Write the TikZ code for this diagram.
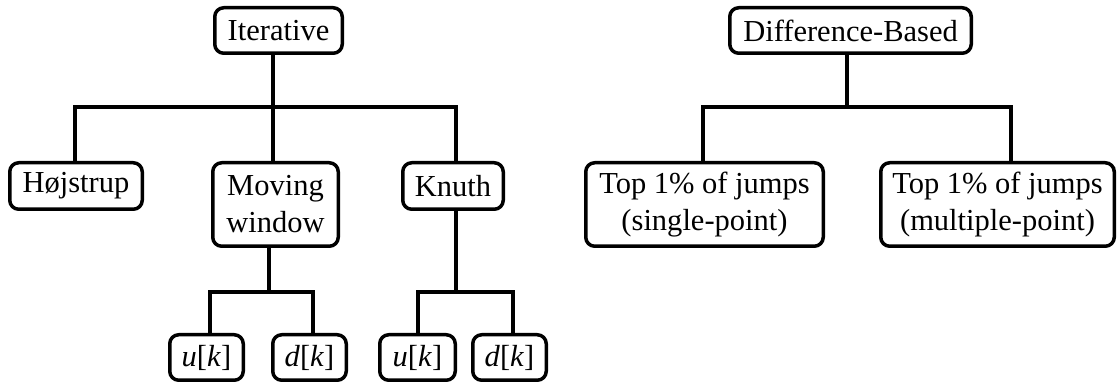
\documentclass[tikz,border=0pt]{standalone}
\usepackage{fontspec}
\setmainfont{Liberation Serif}
\begin{document}
\begin{tikzpicture}[x=0.5pt,y=-0.5pt,
  box/.style={draw, line width=1.75pt, rounded corners=4.5pt, inner sep=0pt,
    align=center, font=\fontsize{15.25}{18.5}\selectfont},
  conn/.style={line width=1.75pt}]
\useasboundingbox (0,0) rectangle (1117,383);
% Iterative tree
\node[box, minimum width=63.75pt, minimum height=22.75pt] (it) at (278.5,30.5) {Iterative};
\node[box, minimum width=66.25pt, minimum height=23.25pt] (hoj) at (76,186) {Højstrup};
\node[box, minimum width=62.75pt, minimum height=41.75pt] (mov) at (275.5,204.5) {Moving\\window};
\node[box, minimum width=50.25pt, minimum height=23.25pt] (knu) at (453,186) {Knuth};
\node[box, minimum width=36.75pt, minimum height=22.75pt] (u1) at (206.5,357.5) {\textit{u}[\textit{k}]};
\node[box, minimum width=36.75pt, minimum height=22.75pt] (d1) at (309.5,357.5) {\textit{d}[\textit{k}]};
\node[box, minimum width=37.75pt, minimum height=22.75pt] (u2) at (417.5,357.5) {\textit{u}[\textit{k}]};
\node[box, minimum width=36.75pt, minimum height=22.75pt] (d2) at (509.5,357.5) {\textit{d}[\textit{k}]};
% Difference-based tree
\node[box, minimum width=120.75pt, minimum height=22.75pt] (diff) at (850.5,30.5) {Difference-Based};
\node[box, minimum width=118.75pt, minimum height=41.75pt] (sp) at (704.5,204.5) {Top 1\% of jumps\\(single-point)};
\node[box, minimum width=116.75pt, minimum height=41.75pt] (mp) at (997.5,204.5) {Top 1\% of jumps\\(multiple-point)};
% junction coordinates
\coordinate (j1) at (273,107); \coordinate (l1) at (75,107); \coordinate (r1) at (456,107);
\coordinate (j2) at (269,292); \coordinate (l2) at (210,292); \coordinate (r2) at (313,292);
\coordinate (j3) at (456,292); \coordinate (l3) at (418,292); \coordinate (r3) at (513,292);
\coordinate (j4) at (847,107); \coordinate (l4) at (703,107); \coordinate (r4) at (1011,107);
% connectors
\draw[conn] (it.south -| j1) -- (j1);
\draw[conn] (l1 |- hoj.north) -- (l1) -- (r1) -- (r1 |- knu.north);
\draw[conn] (j1) -- (j1 |- mov.north);
\draw[conn] (mov.south -| j2) -- (j2);
\draw[conn] (l2 |- u1.north) -- (l2) -- (r2) -- (r2 |- d1.north);
\draw[conn] (knu.south -| j3) -- (j3);
\draw[conn] (l3 |- u2.north) -- (l3) -- (r3) -- (r3 |- d2.north);
\draw[conn] (diff.south -| j4) -- (j4);
\draw[conn] (l4 |- sp.north) -- (l4) -- (r4) -- (r4 |- mp.north);
\end{tikzpicture}
\end{document}
